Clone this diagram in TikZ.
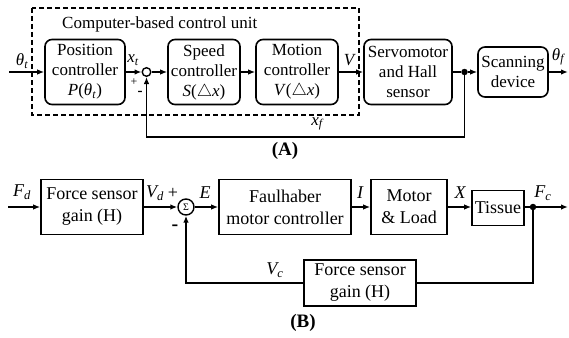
\documentclass[tikz,border=0pt]{standalone}
\usepackage{fontspec}
\setmainfont{Liberation Serif}
\usetikzlibrary{arrows.meta}

\begin{document}
\begin{tikzpicture}[x=1pt,y=-1pt,
  blockA/.style={draw, line width=1.6pt, rounded corners=7pt, align=center,
    font=\fontsize{17}{20}\selectfont, inner sep=0pt},
  blockB/.style={draw, line width=1.6pt, align=center,
    font=\fontsize{18}{22}\selectfont, inner sep=0pt},
  sig/.style={line width=1.5pt},
  arr/.style={sig, -{Latex[length=7pt,width=5.5pt]}},
  lblA/.style={font=\fontsize{17}{17}\selectfont\itshape, inner sep=0pt},
  lblB/.style={font=\fontsize{18}{18}\selectfont\itshape, inner sep=0pt},
  junction/.style={circle, fill, inner sep=0pt, minimum size=6.5pt},
  panel/.style={font=\fontsize{19}{19}\selectfont\bfseries, inner sep=0pt}
]
\useasboundingbox (0,0) rectangle (569,337);

% ---------------- (A) position loop ----------------
\draw[line width=1.5pt, dash pattern=on 5pt off 3pt] (32,8) rectangle (359,115);
\node[font=\fontsize{17}{17}\selectfont, anchor=west, inner sep=0pt] (cbcu) at (62,24) {Computer-based control unit};

\coordinate (inA) at (9,72);
\node[blockA, minimum width=80pt, minimum height=65pt] (pos) at (85,72)
  {Position\\controller\\\textit{P}(\textit{θ}\textsubscript{\textit{t}})};
\node[circle, draw, line width=1.4pt, minimum size=8.6pt, inner sep=0pt] (sa) at (146.5,72) {};
\node[blockA, minimum width=72pt, minimum height=65pt] (speed) at (204,72)
  {Speed\\controller\\\textit{S}($\triangle$\textit{x})};
\node[blockA, minimum width=82pt, minimum height=65pt] (motion) at (297,72)
  {Motion\\controller\\\textit{V}($\triangle$\textit{x})};
\node[blockA, minimum width=88pt, minimum height=65pt] (servo) at (408,72)
  {Servomotor\\and Hall\\sensor};
\node[junction] (dotA) at (464.5,72) {};
\node[blockA, minimum width=70pt, minimum height=50pt] (scan) at (513,72)
  {Scanning\\device};
\coordinate (outA) at (568,72);

\draw[arr] (inA) -- (pos);
\draw[arr] (pos) -- (sa);
\draw[arr] (sa) -- (speed);
\draw[arr] (speed) -- (motion);
\draw[arr] (motion) -- (servo);
\draw[sig] (servo) -- (dotA);
\draw[arr] (dotA) -- (scan);
\draw[arr] (scan) -- (outA);
\draw[arr] (dotA) -- ++(0,65) -| (sa.south);

\node[lblA] (thetat) at (22,61) {θ\textsubscript{t}};
\node[lblA] (xt) at (133,60) {x\textsubscript{t}};
\node[font=\fontsize{12}{12}\selectfont, inner sep=0pt] (plA) at (134,82) {+};
\node[font=\fontsize{15}{15}\selectfont\bfseries, inner sep=0pt] (miA) at (140,93) {-};
\node[lblA] (vl) at (349,60) {V};
\node[lblA] (thetaf) at (558,57) {θ\textsubscript{f}};
\node[lblA] (xf) at (317,124) {x\textsubscript{f}};
\node[panel] (pA) at (285,151) {(A)};

% ---------------- (B) force loop ----------------
\coordinate (inB) at (8,207);
\node[blockB, minimum width=102pt, minimum height=55pt] (fs1) at (92,207)
  {Force sensor\\gain (H)};
\node[circle, draw, line width=1.4pt, minimum size=16pt, inner sep=0pt,
  font=\fontsize{10}{10}\selectfont] (sb) at (186,207) {Σ};
\node[blockB, minimum width=132pt, minimum height=55pt] (faul) at (285,207)
  {Faulhaber\\motor controller};
\node[blockB, minimum width=76pt, minimum height=55pt] (motor) at (409,207)
  {Motor\\\& Load};
\node[blockB, minimum width=52pt, minimum height=35pt] (tissue) at (498,208)
  {Tissue};
\node[junction] (dotB) at (533,207) {};
\coordinate (outB) at (568,207);
\node[blockB, minimum width=112pt, minimum height=46pt] (fs2) at (360,283)
  {Force sensor\\gain (H)};

\draw[arr] (inB) -- (fs1);
\draw[arr] (fs1) -- (sb);
\draw[arr] (sb) -- (faul);
\draw[arr] (faul) -- (motor);
\draw[arr] (motor) -- (motor -| tissue.west);
\draw[sig] (dotB -| tissue.east) -- (dotB);
\draw[arr] (dotB) -- (outB);
\draw[sig] (dotB) |- (fs2);
\draw[arr] (fs2) -| (sb.south);

\node[lblB] (fd) at (22,192) {F\textsubscript{d}};
\node[lblB] (vd) at (155,193) {V\textsubscript{d}};
\node[font=\fontsize{18}{18}\selectfont, inner sep=0pt] (plB) at (173,193) {+};
\node[font=\fontsize{20}{20}\selectfont\bfseries, inner sep=0pt] (miB) at (175,228) {-};
\node[lblB] (el) at (205,193) {E};
\node[lblB] (vc) at (275,270) {V\textsubscript{c}};
\node[lblB] (il) at (360,193) {I};
\node[lblB] (xl) at (460,193) {X};
\node[lblB] (fc) at (543,193) {F\textsubscript{c}};
\node[panel] (pB) at (303,323) {(B)};
\end{tikzpicture}
\end{document}
